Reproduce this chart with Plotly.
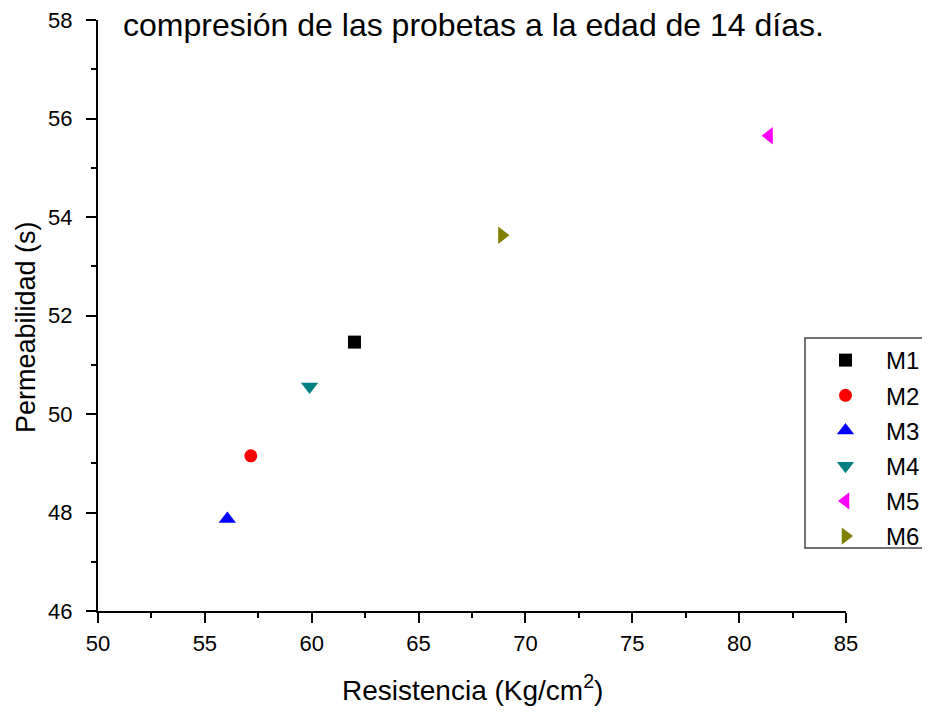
import plotly.graph_objects as go

# Data
series_names = ["M1", "M2", "M3", "M4", "M5", "M6"]
resistencia = [62.0, 57.15, 56.05, 59.9, 81.4, 68.9]
permeabilidad = [51.46, 49.15, 47.87, 50.56, 55.65, 53.63]
symbols = ["square", "circle", "triangle-up", "triangle-down", "triangle-left", "triangle-right"]
colors = ["#000000", "#FF0000", "#0000FF", "#008080", "#FF00FF", "#808000"]
sizes = [13, 13, 15, 15, 15, 15]

x_ticks = [50, 55, 60, 65, 70, 75, 80, 85]
y_ticks = [46, 48, 50, 52, 54, 56, 58]

FONT = "Liberation Sans, Arial, sans-serif"

fig = go.Figure()
for name, xv, yv, sym, col, sz in zip(series_names, resistencia, permeabilidad, symbols, colors, sizes):
    fig.add_trace(go.Scatter(
        x=[xv], y=[yv], mode="markers", name=name, legendgroup=name,
        marker=dict(symbol=sym, color=col, size=sz, line=dict(width=0)),
    ))

# page body has an 8px default margin, so everything is shifted by 8px
OFF = 8
L, T = 98 - OFF, 20 - OFF
W, H = 930, 712
pw, ph = 748, 591
R = W - L - pw
B = H - T - ph

def px_x(px):  # page pixel -> paper x
    return (px - OFF - L) / pw

def px_y(py):  # page pixel -> paper y
    return (T + ph - (py - OFF)) / ph

fig.update_layout(
    width=W, height=H,
    margin=dict(l=L, r=R, t=T, b=B, autoexpand=False),
    paper_bgcolor="white", plot_bgcolor="white",
    font=dict(family=FONT, color="black"),
    showlegend=True,
    legend=dict(
        x=px_x(805), xanchor="left",
        y=px_y(338), yanchor="top",
        borderwidth=0, bgcolor="rgba(0,0,0,0)",
        font=dict(size=24, family=FONT, color="black"),
        tracegroupgap=1, itemwidth=71,
    ),
    shapes=[
        dict(type="rect", xref="paper", yref="paper",
             x0=px_x(805), x1=px_x(945), y0=px_y(548), y1=px_y(338),
             line=dict(color="#444444", width=1.5), fillcolor="rgba(0,0,0,0)", layer="above"),
    ],
    xaxis=dict(
        range=[50, 85], tickvals=x_ticks, ticktext=[str(v) for v in x_ticks],
        showgrid=False, zeroline=False, showline=True, linecolor="black", linewidth=2,
        ticks="outside", ticklen=10, tickwidth=2, tickcolor="black", ticklabeloverflow="allow",
        ticklabelstandoff=2,
        tickfont=dict(size=22, family=FONT, color="black"),
        minor=dict(ticks="outside", ticklen=5, tickwidth=2, tickcolor="black", dtick=2.5, tick0=50, showgrid=False),
    ),
    yaxis=dict(
        range=[46, 58], tickvals=y_ticks, ticktext=[str(v) for v in y_ticks],
        showgrid=False, zeroline=False, showline=True, linecolor="black", linewidth=2,
        ticks="outside", ticklen=10, tickwidth=2, tickcolor="black", ticklabelstandoff=9,
        ticklabeloverflow="allow",
        tickfont=dict(size=22, family=FONT, color="black"),
        minor=dict(ticks="outside", ticklen=5, tickwidth=2, tickcolor="black", dtick=1, tick0=46, showgrid=False),
    ),
    annotations=[
        dict(text="compresión de las probetas a la edad de 14 días.", xref="paper", yref="paper",
             x=px_x(121), xanchor="left", y=px_y(25), yanchor="middle",
             showarrow=False, font=dict(size=32, family=FONT, color="black")),
        dict(text="Resistencia (Kg/cm<sup>2</sup>)", xref="paper", yref="paper",
             x=0.5, xanchor="center", y=px_y(688), yanchor="middle",
             showarrow=False, font=dict(size=28, family=FONT, color="black")),
        dict(text="Permeabilidad (s)", xref="paper", yref="paper", textangle=-90,
             x=px_x(26), xanchor="center", y=px_y(327), yanchor="middle",
             showarrow=False, font=dict(size=27, family=FONT, color="black")),
    ],
)

fig.write_html("out.html")
